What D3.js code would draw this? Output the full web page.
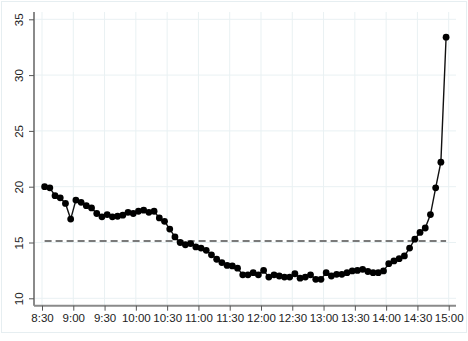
<!DOCTYPE html>
<html>
<head>
<meta charset="utf-8">
<script src="https://cdn.jsdelivr.net/npm/d3@7"></script>
<style>
  body { margin: 0; background: #fff; }
  svg { display: block; font-family: "Liberation Sans", Arial, sans-serif; }
</style>
</head>
<body>
<div id="chart"></div>
<script>
// times are 5-minute bin midpoints, minutes after 8:30
const startMinutes = 8 * 60 + 30;
const binOffsets = d3.range(2.5, 390, 5);
const values = [
  20.0, 19.9, 19.2, 19.0, 18.5, 17.1,
  18.8, 18.6, 18.3, 18.1, 17.6, 17.3, 17.5, 17.3, 17.35, 17.45, 17.7, 17.6,
  17.8, 17.9, 17.7, 17.8, 17.2, 16.9, 16.2, 15.5, 15.0, 14.8, 14.9, 14.6,
  14.5, 14.3, 13.9, 13.5, 13.2, 12.95, 12.9, 12.7, 12.1, 12.1, 12.3, 12.1,
  12.5, 11.9, 12.1, 12.0, 11.9, 11.9, 12.2, 11.8, 11.9, 12.1, 11.7, 11.7,
  12.3, 12.0, 12.15, 12.15, 12.3, 12.45, 12.5, 12.6, 12.4, 12.3, 12.3, 12.45,
  13.1, 13.35, 13.55, 13.8, 14.5, 15.3, 15.9, 16.3, 17.5, 19.9, 22.2, 33.4
];
const referenceLevel = 15.13;
const xTickLabels = ["8:30", "9:00", "9:30", "10:00", "10:30", "11:00", "11:30",
  "12:00", "12:30", "13:00", "13:30", "14:00", "14:30", "15:00"];
const yTicks = [10, 15, 20, 25, 30, 35];

const width = 468, height = 341;
const svg = d3.select("#chart").append("svg")
  .attr("width", width).attr("height", height);

// outer graph region border
svg.append("rect")
  .attr("x", 1.5).attr("y", 1.5)
  .attr("width", 465).attr("height", 331)
  .attr("fill", "none").attr("stroke", "#e6eef1").attr("stroke-width", 1);

const x = d3.scaleLinear()
  .domain([startMinutes, startMinutes + 390])
  .range([42, 448.7]);
const y = d3.scaleLinear()
  .domain([10, 35])
  .range([298.3, 19.3]);

const xTickVals = xTickLabels.map((d, i) => startMinutes + i * 30);
const plotLeft = 34, plotRight = 456, plotTop = 12, axisY = 305.7;

// grid
svg.append("g").selectAll("line").data(xTickVals).join("line")
  .attr("x1", d => x(d)).attr("x2", d => x(d))
  .attr("y1", plotTop).attr("y2", axisY)
  .attr("stroke", "#e9f1f3").attr("stroke-width", 1);
svg.append("g").selectAll("line").data(yTicks).join("line")
  .attr("x1", plotLeft).attr("x2", plotRight)
  .attr("y1", d => y(d)).attr("y2", d => y(d))
  .attr("stroke", "#e9f1f3").attr("stroke-width", 1);

// x axis
const xAxis = svg.append("g")
  .attr("transform", `translate(0,${axisY})`)
  .call(d3.axisBottom(x).tickValues(xTickVals)
    .tickFormat((d, i) => xTickLabels[i]).tickSize(5).tickPadding(3));
xAxis.select(".domain").attr("d", `M${plotLeft},0H${plotRight}`);

// y axis, labels turned on their side
const yAxis = svg.append("g")
  .attr("transform", `translate(${plotLeft},0)`)
  .call(d3.axisLeft(y).tickValues(yTicks).tickSize(5));
yAxis.select(".domain").attr("d", `M0,${plotTop}V${axisY}`);
yAxis.selectAll(".tick text")
  .attr("x", 0).attr("y", -14).attr("dy", 0)
  .attr("transform", "rotate(-90)")
  .attr("text-anchor", "middle")
  .attr("dominant-baseline", "middle");

[xAxis, yAxis].forEach(g => {
  g.select(".domain").attr("stroke", "#8a8a8a").attr("stroke-width", 2);
  g.selectAll(".tick line").attr("stroke", "#555").attr("stroke-width", 1);
  g.selectAll(".tick text").attr("fill", "#222")
    .style("font-size", "11.5px").style("font-family", "\"Liberation Sans\", Arial, sans-serif");
});

// reference dashed line
const times = binOffsets.map(d => startMinutes + d);
svg.append("line")
  .attr("x1", x(times[0])).attr("x2", x(times[times.length - 1]))
  .attr("y1", y(referenceLevel)).attr("y2", y(referenceLevel))
  .attr("stroke", "#7a7a7a").attr("stroke-width", 2)
  .attr("stroke-dasharray", "7,4");

// series
const data = times.map((t, i) => ({ t: t, v: values[i] }));
svg.append("path")
  .datum(data)
  .attr("fill", "none").attr("stroke", "#111").attr("stroke-width", 1.4)
  .attr("d", d3.line().x(d => x(d.t)).y(d => y(d.v)));
svg.append("g").selectAll("circle").data(data).join("circle")
  .attr("cx", d => x(d.t)).attr("cy", d => y(d.v))
  .attr("r", 3.4).attr("fill", "#000");
</script>
</body>
</html>
